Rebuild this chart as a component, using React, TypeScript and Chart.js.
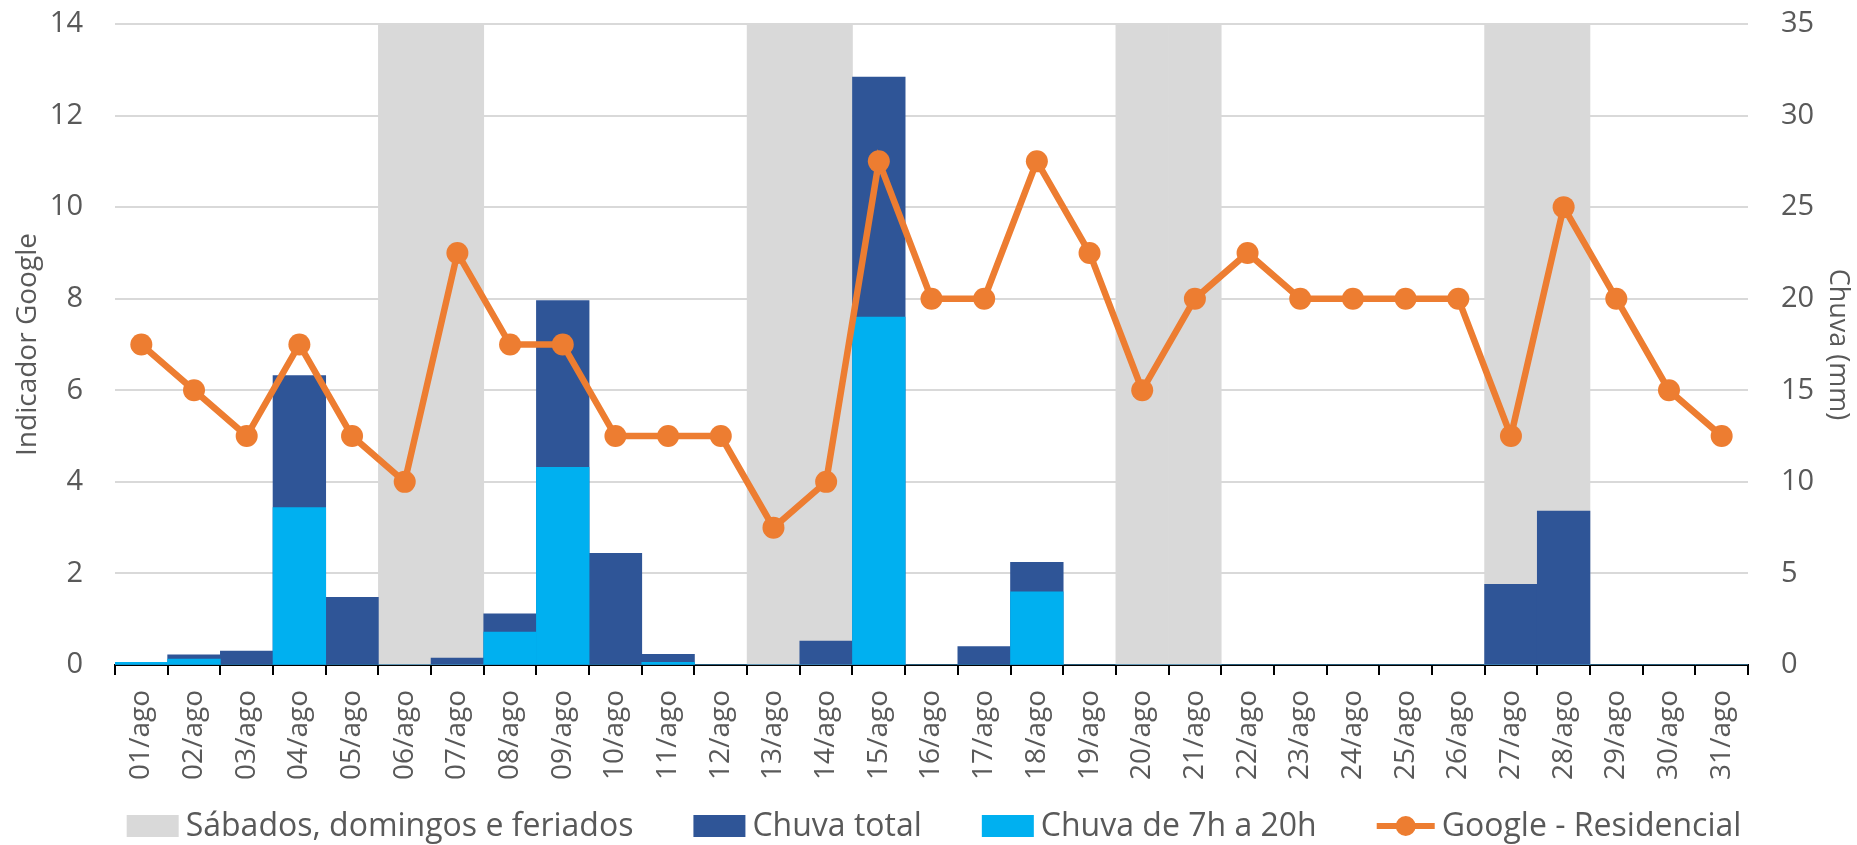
import React, { useEffect, useRef } from "react";
import { Chart, registerables } from "chart.js";

Chart.register(...registerables);

const days = [
  "01/ago", "02/ago", "03/ago", "04/ago", "05/ago", "06/ago", "07/ago", "08/ago",
  "09/ago", "10/ago", "11/ago", "12/ago", "13/ago", "14/ago", "15/ago", "16/ago",
  "17/ago", "18/ago", "19/ago", "20/ago", "21/ago", "22/ago", "23/ago", "24/ago",
  "25/ago", "26/ago", "27/ago", "28/ago", "29/ago", "30/ago", "31/ago",
];

const googleResidencial = [7, 6, 5, 7, 5, 4, 9, 7, 7, 5, 5, 5, 3, 4, 11, 8, 8, 11, 9, 6, 8, 9, 8, 8, 8, 8, 5, 10, 8, 6, 5];

const chuvaTotal = [0.14, 0.55, 0.76, 15.8, 3.7, 0, 0.38, 2.8, 19.9, 6.1, 0.58, 0, 0, 1.3, 32.1, 0, 1.0, 5.6, 0, 0, 0, 0, 0, 0, 0, 0, 4.4, 8.4, 0, 0, 0];

const chuva7a20 = [0.14, 0.33, 0, 8.6, 0, 0, 0, 1.8, 10.8, 0, 0.15, 0, 0, 0, 19.0, 0, 0, 4.0, 0, 0, 0, 0, 0, 0, 0, 0, 0, 0, 0, 0, 0];

const feriados = [0, 0, 0, 0, 0, 35, 35, 0, 0, 0, 0, 0, 35, 35, 0, 0, 0, 0, 0, 35, 35, 0, 0, 0, 0, 0, 35, 35, 0, 0, 0];

const leftTicks = { min: 0, max: 14, step: 2 };
const rightTicks = { min: 0, max: 35, step: 5 };

const seriesNames = ["Google - Residencial", "Chuva de 7h a 20h", "Chuva total", "Sábados, domingos e feriados"];

const W = 1857;
const H = 845;
const FONT = "'Open Sans', sans-serif";
const TEXT = "#595959";
const ORANGE = "#ED7D31";
const DARK = "#2F5597";
const LIGHT = "#00B0F0";
const GRAY = "#D9D9D9";
const CLEAR = "rgba(0,0,0,0)";

const legendPlugin = {
  id: "customLegend",
  afterDraw(chart: any) {
    const ctx = chart.ctx as CanvasRenderingContext2D;
    const ds = chart.data.datasets;
    const order = [3, 2, 1, 0];
    const boxW = 52;
    const lineW = 58;
    const gapBoxText = 7;
    const gapItems = 60;
    const cy = 826;
    const centerX = 934;
    ctx.save();
    ctx.font = `32px ${FONT}`;
    ctx.textBaseline = "middle";
    ctx.textAlign = "left";
    const widths = order.map((i) => ctx.measureText(ds[i].label).width);
    let total = 0;
    order.forEach((i, k) => {
      total += (i === 0 ? lineW : boxW) + gapBoxText + widths[k];
      if (k < order.length - 1) total += gapItems;
    });
    let x = centerX - total / 2;
    order.forEach((i, k) => {
      if (i === 0) {
        ctx.strokeStyle = ORANGE;
        ctx.lineWidth = 6;
        ctx.beginPath();
        ctx.moveTo(x, cy);
        ctx.lineTo(x + lineW, cy);
        ctx.stroke();
        ctx.fillStyle = ORANGE;
        ctx.beginPath();
        ctx.arc(x + lineW / 2, cy, 10, 0, Math.PI * 2);
        ctx.fill();
        x += lineW + gapBoxText;
      } else {
        ctx.fillStyle = ds[i].backgroundColor;
        ctx.fillRect(x, cy - 11, boxW, 22);
        x += boxW + gapBoxText;
      }
      ctx.fillStyle = TEXT;
      ctx.fillText(ds[i].label, x, cy + 1);
      x += widths[k] + gapItems;
    });
    ctx.restore();
  },
};

export default function App() {
  const ref = useRef<HTMLCanvasElement | null>(null);

  useEffect(() => {
    document.body.style.margin = "0";
    const canvas = ref.current;
    if (!canvas) return;
    const plotBottom = 665;

    const chart = new Chart(canvas, {
      type: "bar",
      data: {
        labels: days,
        datasets: [
          {
            type: "line",
            label: seriesNames[0],
            data: googleResidencial,
            yAxisID: "y",
            borderColor: ORANGE,
            backgroundColor: ORANGE,
            borderWidth: 6.5,
            pointRadius: 11,
            pointBorderWidth: 0,
            pointBackgroundColor: ORANGE,
            tension: 0,
          },
          {
            type: "bar",
            label: seriesNames[1],
            data: chuva7a20,
            yAxisID: "y1",
            backgroundColor: LIGHT,
            borderWidth: 0,
            grouped: false,
            barPercentage: 1,
            categoryPercentage: 1,
          },
          {
            type: "bar",
            label: seriesNames[2],
            data: chuvaTotal,
            yAxisID: "y1",
            backgroundColor: DARK,
            borderWidth: 0,
            grouped: false,
            barPercentage: 1,
            categoryPercentage: 1,
          },
          {
            type: "bar",
            label: seriesNames[3],
            data: feriados,
            yAxisID: "y1",
            backgroundColor: GRAY,
            borderWidth: 0,
            grouped: false,
            barPercentage: 1,
            categoryPercentage: 1,
          },
        ],
      },
      options: {
        responsive: false,
        animation: false,
        devicePixelRatio: 1,
        layout: { autoPadding: false, padding: { top: 24, left: 0, right: 0, bottom: 0 } },
        plugins: {
          tooltip: { enabled: false },
          legend: { display: false },
        },
        scales: {
          x: {
            type: "category",
            offset: true,
            z: 1,
            afterFit: (s: any) => {
              s.height = H - plotBottom;
            },
            grid: {
              offset: true,
              drawOnChartArea: false,
              drawTicks: true,
              tickLength: 10,
              color: "#000000",
              lineWidth: 2,
            },
            border: { display: true, color: "#000000", width: 2 },
            ticks: {
              autoSkip: false,
              minRotation: 90,
              maxRotation: 90,
              padding: 15,
              color: TEXT,
              font: { family: FONT, size: 28 },
            },
          },
          y: {
            position: "left",
            min: leftTicks.min,
            max: leftTicks.max,
            afterFit: (s: any) => {
              s.width = 115;
            },
            ticks: {
              stepSize: leftTicks.step,
              padding: 4,
              color: TEXT,
              font: { family: FONT, size: 29 },
            },
            grid: { color: GRAY, lineWidth: 2, drawTicks: true, tickLength: 28, tickColor: CLEAR },
            border: { display: false },
            title: {
              display: true,
              text: "Indicador Google",
              color: TEXT,
              font: { family: FONT, size: 28 },
              padding: { top: 11, bottom: 0 },
            },
          },
          y1: {
            position: "right",
            min: rightTicks.min,
            max: rightTicks.max,
            afterFit: (s: any) => {
              s.width = W - 1748;
            },
            ticks: {
              stepSize: rightTicks.step,
              padding: 4,
              color: TEXT,
              font: { family: FONT, size: 29 },
            },
            grid: { display: true, drawOnChartArea: false, drawTicks: true, tickLength: 29, tickColor: CLEAR, color: CLEAR },
            border: { display: false },
            title: {
              display: true,
              text: "Chuva (mm)",
              color: TEXT,
              font: { family: FONT, size: 27 },
              padding: { top: 3, bottom: 0 },
            },
          },
        },
      } as any,
      plugins: [legendPlugin],
    });

    return () => {
      chart.destroy();
    };
  }, []);

  return (
    <div style={{ width: W, height: H, background: "#ffffff" }}>
      <canvas ref={ref} width={W} height={H} style={{ display: "block", width: W, height: H }} />
    </div>
  );
}
